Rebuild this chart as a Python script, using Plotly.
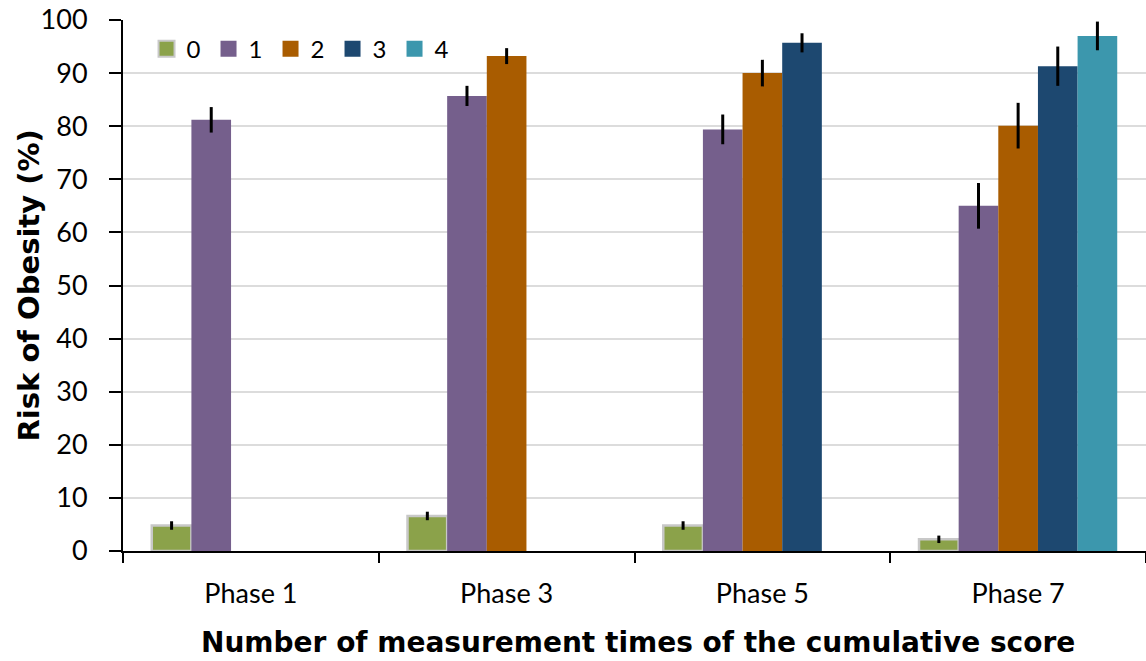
import plotly.graph_objects as go

categories = ["Phase 1", "Phase 3", "Phase 5", "Phase 7"]
series_names = ["0", "1", "2", "3", "4"]
values = {
    "0": [4.8, 6.6, 4.8, 2.2],
    "1": [81.2, 85.7, 79.4, 65.0],
    "2": [None, 93.2, 90.0, 80.1],
    "3": [None, None, 95.7, 91.3],
    "4": [None, None, None, 97.0],
}
errors = {
    "0": [0.8, 0.8, 0.8, 0.7],
    "1": [2.4, 1.9, 2.8, 4.3],
    "2": [0, 1.5, 2.5, 4.3],
    "3": [0, 0, 1.8, 3.7],
    "4": [0, 0, 0, 2.7],
}
colors = ["#8BA24A", "#755F8C", "#A95C00", "#1D4870", "#3C97AD"]
y_ticks = list(range(0, 101, 10))

FONT = "Lato, 'Open Sans', sans-serif"
BOLD = "'DejaVu Sans', sans-serif"

W, H = 1146, 661
ML, MT = 123, 20
PLOT_W = W - ML
PLOT_H = 531

fig = go.Figure()
for name, col in zip(series_names, colors):
    fig.add_trace(go.Bar(
        name=name,
        x=categories,
        y=values[name],
        showlegend=False,
        marker=dict(color=col,
                    line=dict(color="#C8C8C8" if name == "0" else col,
                              width=2.5 if name == "0" else 0)),
        error_y=dict(type="data", array=errors[name], visible=True,
                     color="black", thickness=3, width=0),
    ))
    # legend entry with a larger square swatch
    fig.add_trace(go.Scatter(
        name=name, x=[None], y=[None], mode="markers",
        marker=dict(symbol="square", size=16, color=col,
                    line=dict(color="#C8C8C8" if name == "0" else col,
                              width=2 if name == "0" else 0)),
        showlegend=True, hoverinfo="skip",
    ))

fig.update_layout(
    width=W, height=H,
    margin=dict(l=ML, r=0, t=MT, b=H - MT - PLOT_H),
    paper_bgcolor="white", plot_bgcolor="white",
    barmode="group", bargap=0.225, bargroupgap=0,
    font=dict(family=FONT, color="black"),
    showlegend=True,
    legend=dict(orientation="h", x=0.023, y=0.945, xanchor="left", yanchor="middle",
                font=dict(size=24, family=FONT), bgcolor="rgba(0,0,0,0)",
                entrywidth=17, itemwidth=30, traceorder="normal"),
    xaxis=dict(
        automargin=False,
        showline=True, linecolor="black", linewidth=2,
        ticks="outside", tickson="boundaries", ticklen=10, tickwidth=2, tickcolor="black",
        tickfont=dict(size=27, family=FONT), ticklabelstandoff=18,
        showgrid=False,
    ),
    yaxis=dict(
        automargin=False,
        range=[0, 100], tickvals=y_ticks,
        showline=True, linecolor="black", linewidth=2,
        ticks="outside", ticklen=12, tickwidth=2, tickcolor="black",
        tickfont=dict(size=27, family=FONT), ticklabelstandoff=16,
        ticklabeloverflow="allow",
        showgrid=True, gridcolor="#DCDCDC", gridwidth=2,
        zeroline=False,
    ),
    annotations=[
        dict(text="<b>Risk of Obesity (%)</b>", xref="paper", yref="paper",
             x=-95 / PLOT_W, y=0.5, xanchor="center", yanchor="middle",
             textangle=-90, showarrow=False, font=dict(size=29, family=BOLD)),
        dict(text="<b>Number of measurement times of the cumulative score</b>",
             xref="paper", yref="paper", x=0.503, y=-91 / PLOT_H,
             xanchor="center", yanchor="middle", showarrow=False,
             font=dict(size=28, family=BOLD)),
    ],
)

# remove the browser's default 8px page margin so the figure fills the window
fig.write_html("out.html",
               config={"displayModeBar": False},
               post_script="document.body.style.margin='0';"
                           "document.body.style.overflow='hidden';")
